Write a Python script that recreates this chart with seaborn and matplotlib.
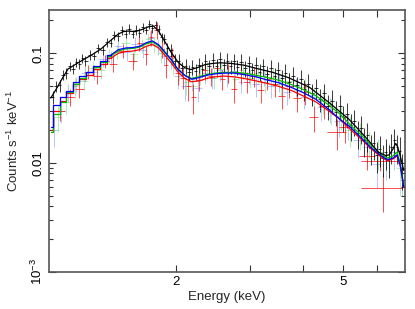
import numpy as np
import pandas as pd
import seaborn as sns
import matplotlib
matplotlib.use('Agg')
import matplotlib.pyplot as plt
from matplotlib.ticker import FixedLocator, NullFormatter, LogLocator

# black spectrum: bin centres, counts/s/keV, relative errors
black_e = [1.02, 1.04, 1.06, 1.08, 1.10, 1.12, 1.14, 1.16, 1.18, 1.20, 1.22,
           1.25, 1.28, 1.31, 1.34, 1.37, 1.40, 1.43, 1.46, 1.49,
           1.52, 1.55, 1.58, 1.61, 1.64, 1.67, 1.70, 1.73, 1.76, 1.79, 1.82,
           1.85, 1.88, 1.91, 1.95, 1.99, 2.03, 2.07,
           2.11, 2.15, 2.19, 2.23, 2.27, 2.31, 2.35,
           2.40, 2.45, 2.50, 2.55, 2.60, 2.65, 2.70, 2.75, 2.80,
           2.86, 2.92, 2.98, 3.04, 3.10, 3.16, 3.22,
           3.29, 3.36, 3.43, 3.50, 3.57, 3.64, 3.72, 3.80, 3.88, 3.96,
           4.04, 4.13, 4.22, 4.31, 4.40, 4.50, 4.60, 4.70, 4.80, 4.90,
           5.00, 5.10, 5.20, 5.30, 5.40, 5.50, 5.60, 5.70, 5.80, 5.90,
           6.00, 6.10, 6.20, 6.30, 6.40, 6.50, 6.60, 6.70, 6.80, 6.90]
black_v = [0.040, 0.050, 0.051, 0.064, 0.066, 0.076, 0.072, 0.083, 0.080, 0.090, 0.086,
           0.097, 0.095, 0.111, 0.107, 0.127, 0.125, 0.147, 0.143, 0.163,
           0.152, 0.168, 0.151, 0.165, 0.155, 0.174, 0.165, 0.184, 0.170, 0.181, 0.166,
           0.140, 0.136, 0.111, 0.107, 0.086, 0.086, 0.073,
           0.077, 0.067, 0.075, 0.069, 0.079, 0.072, 0.085,
           0.076, 0.087, 0.077, 0.088, 0.078, 0.086, 0.076, 0.085, 0.075,
           0.084, 0.073, 0.081, 0.070, 0.078, 0.068, 0.076,
           0.065, 0.073, 0.062, 0.070, 0.059, 0.066, 0.055, 0.062, 0.051, 0.058,
           0.047, 0.053, 0.043, 0.048, 0.038, 0.043, 0.033, 0.037, 0.029, 0.033,
           0.026, 0.028, 0.022, 0.024, 0.0188, 0.0207, 0.0160, 0.0178, 0.0137, 0.0150,
           0.0118, 0.0133, 0.0110, 0.0125, 0.0109, 0.0140, 0.0160, 0.0138, 0.0128, 0.0088]
black_rel = [0.14, 0.12, 0.13, 0.11, 0.12, 0.10, 0.11, 0.10, 0.11, 0.09, 0.10,
             0.10, 0.09, 0.10, 0.09, 0.10, 0.09, 0.10, 0.09, 0.10,
             0.09, 0.10, 0.09, 0.10, 0.09, 0.10, 0.09, 0.10, 0.09, 0.10, 0.09,
             0.10, 0.11, 0.12, 0.13, 0.14, 0.15, 0.15,
             0.16, 0.17, 0.16, 0.17, 0.16, 0.15, 0.16,
             0.15, 0.16, 0.15, 0.16, 0.15, 0.16, 0.15, 0.17, 0.16,
             0.17, 0.16, 0.18, 0.17, 0.18, 0.17, 0.18,
             0.18, 0.19, 0.18, 0.20, 0.19, 0.20, 0.19, 0.21, 0.20, 0.21,
             0.22, 0.21, 0.23, 0.22, 0.24, 0.23, 0.25, 0.24, 0.26, 0.25,
             0.27, 0.26, 0.28, 0.27, 0.29, 0.28, 0.30, 0.29, 0.31, 0.30,
             0.32, 0.31, 0.33, 0.32, 0.34, 0.30, 0.28, 0.30, 0.33, 0.36]

# red spectrum: centre, half width, value, error
red_e = [1.06, 1.12, 1.18, 1.24, 1.30, 1.36, 1.42, 1.50, 1.58, 1.64, 1.70, 1.75,
         1.80, 1.85, 1.90, 1.96, 2.02, 2.08, 2.14, 2.20, 2.27, 2.34, 2.42, 2.50,
         2.58, 2.66, 2.75, 2.85, 2.95, 3.06, 3.18, 3.30, 3.43, 3.57, 3.72, 3.88,
         4.05, 4.25, 4.50, 4.82, 5.05, 5.70, 6.10, 6.20]
red_w = [0.03, 0.03, 0.03, 0.03, 0.03, 0.03, 0.03, 0.04, 0.04, 0.02, 0.02, 0.02,
         0.02, 0.02, 0.02, 0.03, 0.03, 0.03, 0.03, 0.03, 0.035, 0.035, 0.04, 0.04,
         0.04, 0.04, 0.05, 0.05, 0.05, 0.06, 0.06, 0.06, 0.07, 0.07, 0.08, 0.08,
         0.09, 0.11, 0.13, 0.25, 0.18, 0.25, 0.6, 0.7]
red_v = [0.030, 0.040, 0.047, 0.068, 0.062, 0.085, 0.080, 0.106, 0.086, 0.125, 0.098, 0.140,
         0.165, 0.110, 0.078, 0.095, 0.066, 0.060, 0.050, 0.040, 0.057, 0.070, 0.062, 0.074,
         0.058, 0.067, 0.047, 0.066, 0.055, 0.062, 0.046, 0.058, 0.052, 0.041, 0.050, 0.039,
         0.044, 0.026, 0.033, 0.019, 0.021, 0.0116, 0.0104, 0.0058]
red_err = [0.006, 0.007, 0.008, 0.010, 0.010, 0.012, 0.013, 0.015, 0.015, 0.020, 0.020, 0.022,
           0.030, 0.020, 0.018, 0.017, 0.015, 0.013, 0.013, 0.012, 0.012, 0.013, 0.012, 0.013,
           0.012, 0.013, 0.012, 0.013, 0.012, 0.013, 0.011, 0.012, 0.012, 0.010, 0.011, 0.010,
           0.010, 0.007, 0.008, 0.006, 0.006, 0.003, 0.002, 0.0023]

green_e = [1.05, 1.10, 1.15, 1.21, 1.27, 1.33, 1.39, 1.45, 1.52, 1.59, 1.66, 1.72,
           1.78, 1.84, 1.90, 1.97, 2.04, 2.12, 2.20, 2.28, 2.37, 2.46, 2.56, 2.66,
           2.77, 2.88, 3.00, 3.13, 3.26, 3.40, 3.55, 3.71, 3.88, 4.06, 4.25, 4.46,
           4.68, 4.92, 5.18, 5.46, 5.75, 6.05, 6.40, 6.80]
green_w = [0.025, 0.025, 0.025, 0.03, 0.03, 0.03, 0.03, 0.03, 0.035, 0.035, 0.03, 0.03,
           0.03, 0.03, 0.03, 0.035, 0.035, 0.04, 0.04, 0.04, 0.045, 0.045, 0.05, 0.05,
           0.055, 0.055, 0.06, 0.065, 0.065, 0.07, 0.075, 0.08, 0.085, 0.09, 0.1, 0.11,
           0.12, 0.12, 0.14, 0.14, 0.15, 0.15, 0.2, 0.15]
green_v = [0.026, 0.036, 0.050, 0.056, 0.074, 0.070, 0.096, 0.104, 0.125, 0.098, 0.118, 0.135,
           0.120, 0.100, 0.096, 0.080, 0.070, 0.055, 0.050, 0.064, 0.071, 0.060, 0.072, 0.066,
           0.058, 0.070, 0.060, 0.066, 0.055, 0.061, 0.052, 0.056, 0.046, 0.049, 0.040, 0.037,
           0.030, 0.027, 0.020, 0.018, 0.0150, 0.0125, 0.0112, 0.0090]
green_err = [0.007, 0.008, 0.009, 0.010, 0.012, 0.012, 0.014, 0.015, 0.018, 0.016, 0.018, 0.020,
             0.020, 0.018, 0.018, 0.016, 0.014, 0.013, 0.012, 0.013, 0.014, 0.013, 0.014, 0.013,
             0.012, 0.013, 0.012, 0.013, 0.012, 0.012, 0.011, 0.011, 0.010, 0.010, 0.009, 0.009,
             0.008, 0.007, 0.006, 0.005, 0.004, 0.004, 0.004, 0.004]

blue_e = [1.03, 1.07, 1.11, 1.16, 1.22, 1.28, 1.34, 1.40, 1.46, 1.53, 1.60, 1.67,
          1.74, 1.81, 1.88, 1.95, 2.02, 2.10, 2.18, 2.26, 2.35, 2.44, 2.54, 2.64,
          2.75, 2.86, 2.98, 3.10, 3.23, 3.37, 3.52, 3.68, 3.85, 4.03, 4.22, 4.43,
          4.65, 4.88, 5.13, 5.40, 5.70, 6.00, 6.30, 6.60, 6.88]
blue_w = [0.02, 0.02, 0.025, 0.025, 0.03, 0.03, 0.03, 0.03, 0.03, 0.035, 0.035, 0.035,
          0.035, 0.035, 0.035, 0.035, 0.04, 0.04, 0.04, 0.045, 0.045, 0.045, 0.05, 0.05,
          0.055, 0.055, 0.06, 0.06, 0.065, 0.07, 0.075, 0.08, 0.085, 0.09, 0.1, 0.11,
          0.11, 0.12, 0.13, 0.14, 0.15, 0.15, 0.15, 0.15, 0.07]
blue_v = [0.020, 0.030, 0.044, 0.052, 0.066, 0.068, 0.088, 0.092, 0.118, 0.102, 0.122, 0.108,
          0.138, 0.116, 0.095, 0.090, 0.062, 0.050, 0.058, 0.048, 0.066, 0.060, 0.070, 0.062,
          0.069, 0.055, 0.066, 0.052, 0.062, 0.050, 0.055, 0.044, 0.050, 0.040, 0.042, 0.032,
          0.031, 0.024, 0.022, 0.016, 0.0140, 0.0098, 0.0110, 0.0125, 0.0080]
blue_err = [0.006, 0.007, 0.008, 0.009, 0.011, 0.011, 0.013, 0.014, 0.016, 0.016, 0.018, 0.018,
            0.022, 0.020, 0.018, 0.018, 0.015, 0.013, 0.013, 0.012, 0.013, 0.013, 0.014, 0.013,
            0.014, 0.012, 0.013, 0.012, 0.012, 0.011, 0.011, 0.010, 0.010, 0.009, 0.009, 0.008,
            0.008, 0.007, 0.006, 0.005, 0.004, 0.004, 0.004, 0.004, 0.003]

# folded models
black_model_e = [1.01, 1.04, 1.07, 1.11, 1.16, 1.21, 1.27, 1.33, 1.39, 1.46, 1.50, 1.54,
                 1.60, 1.66, 1.72, 1.77, 1.82, 1.88, 1.95, 2.03, 2.10, 2.17, 2.25, 2.35,
                 2.45, 2.55, 2.70, 2.90, 3.10, 3.40, 3.70, 4.15, 4.60, 5.15, 5.65, 6.05,
                 6.30, 6.42, 6.55, 6.65, 6.72, 6.80, 6.95]
black_model_v = [0.039, 0.047, 0.057, 0.072, 0.080, 0.088, 0.098, 0.110, 0.128, 0.150, 0.158, 0.160,
                 0.158, 0.165, 0.175, 0.178, 0.160, 0.130, 0.102, 0.082, 0.074, 0.071, 0.074, 0.079,
                 0.081, 0.082, 0.081, 0.078, 0.073, 0.067, 0.060, 0.049, 0.036, 0.025, 0.017, 0.0125,
                 0.0116, 0.0118, 0.0133, 0.0150, 0.0140, 0.0120, 0.0085]

col_model_e = [1.01, 1.04, 1.08, 1.12, 1.16, 1.20, 1.25, 1.30, 1.35, 1.40, 1.46, 1.52,
               1.58, 1.64, 1.70, 1.76, 1.82, 1.88, 1.95, 2.02, 2.10, 2.18, 2.27, 2.37,
               2.48, 2.60, 2.75, 2.90, 3.10, 3.30, 3.50, 3.75, 4.00, 4.30, 4.60, 4.90,
               5.20, 5.50, 5.80, 6.10, 6.35, 6.55, 6.70, 6.82, 6.95]
blue_model_v = [0.021, 0.034, 0.040, 0.045, 0.055, 0.062, 0.068, 0.077, 0.085, 0.096, 0.108, 0.112,
                0.113, 0.116, 0.125, 0.130, 0.120, 0.104, 0.088, 0.072, 0.063, 0.058, 0.060, 0.063,
                0.065, 0.066, 0.066, 0.064, 0.061, 0.057, 0.054, 0.049, 0.044, 0.038, 0.031, 0.025,
                0.021, 0.017, 0.0138, 0.0118, 0.0106, 0.0110, 0.0118, 0.0095, 0.0060]
red_model_v = [0.020, 0.030, 0.037, 0.043, 0.052, 0.058, 0.064, 0.072, 0.080, 0.090, 0.100, 0.104,
               0.105, 0.108, 0.116, 0.121, 0.112, 0.097, 0.082, 0.068, 0.059, 0.055, 0.056, 0.059,
               0.061, 0.062, 0.061, 0.059, 0.056, 0.053, 0.050, 0.046, 0.041, 0.036, 0.030, 0.025,
               0.020, 0.0165, 0.0135, 0.0115, 0.0104, 0.0108, 0.0115, 0.0093, 0.0060]
green_model_v = [0.019, 0.028, 0.036, 0.044, 0.053, 0.060, 0.067, 0.075, 0.084, 0.094, 0.105, 0.110,
                 0.111, 0.114, 0.122, 0.127, 0.118, 0.102, 0.087, 0.072, 0.063, 0.059, 0.061, 0.064,
                 0.066, 0.067, 0.067, 0.066, 0.063, 0.060, 0.057, 0.052, 0.047, 0.041, 0.034, 0.028,
                 0.022, 0.018, 0.0145, 0.0122, 0.0110, 0.0115, 0.0125, 0.0098, 0.0062]

sns.set_theme(style='ticks')
plt.rcParams['font.family'] = ['Liberation Sans', 'DejaVu Sans']
plt.rcParams['mathtext.fontset'] = 'custom'
plt.rcParams['mathtext.rm'] = 'Liberation Sans'
plt.rcParams['mathtext.it'] = 'Liberation Sans:italic'

fig = plt.figure(figsize=(4.15, 3.09), dpi=100)
ax = fig.add_axes([0.118, 0.120, 0.858, 0.848])
ax.set_xscale('log')
ax.set_yscale('log')

# black bin half widths from neighbouring centres
be = np.array(black_e)
mids = (be[:-1] + be[1:]) / 2
edges = np.concatenate([[be[0] - (mids[0] - be[0])], mids, [be[-1] + (be[-1] - mids[-1])]])
bv = np.array(black_v)
b_err = bv * np.array(black_rel)

def draw_data(e, w, v, err, color, alpha, lw=0.7):
    ax.errorbar(e, v, xerr=w, yerr=err, fmt='none', ecolor=color,
                elinewidth=lw, alpha=alpha, capsize=0, zorder=2)

draw_data(blue_e, blue_w, blue_v, blue_err, '#3355ff', 0.35)
draw_data(green_e, green_w, green_v, green_err, '#22cc22', 0.35)
draw_data(red_e, red_w, red_v, red_err, '#ff0000', 0.7)
ax.errorbar(be, bv, xerr=[be - edges[:-1], edges[1:] - be], yerr=b_err, fmt='none',
            ecolor='black', elinewidth=0.75, alpha=0.75, capsize=0, zorder=3)

# coloured models: stepped where the bins are wide, smooth above ~1.4 keV
models = pd.DataFrame({'E': col_model_e, 'blue': blue_model_v,
                       'red': red_model_v, 'green': green_model_v})
low = models[models['E'] <= 1.40]
high = models[models['E'] >= 1.40]
for name, c in [('red', '#ff0000'), ('green', '#00bb00'), ('blue', '#0000ff')]:
    sns.lineplot(data=low, x='E', y=name, color=c, lw=0.9, ax=ax,
                 drawstyle='steps-mid', estimator=None, sort=False, zorder=4)
    sns.lineplot(data=high, x='E', y=name, color=c, lw=0.9, ax=ax,
                 estimator=None, sort=False, zorder=4)
bm = pd.DataFrame({'E': black_model_e, 'v': black_model_v})
sns.lineplot(data=bm, x='E', y='v', color='black', lw=0.9, ax=ax,
             estimator=None, sort=False, zorder=5)

ax.set_xlim(1.0, 7.0)
ax.set_ylim(1e-3, 0.25)

ax.xaxis.set_major_locator(FixedLocator([2, 5]))
ax.xaxis.set_minor_locator(FixedLocator([3, 4, 6]))
ax.xaxis.set_minor_formatter(NullFormatter())
ax.set_xticklabels(['2', '5'])
ax.yaxis.set_major_locator(FixedLocator([1e-3, 1e-2, 1e-1]))
ax.yaxis.set_minor_locator(LogLocator(base=10, subs=np.arange(2, 10)))
ax.yaxis.set_minor_formatter(NullFormatter())
ax.set_yticklabels([r'10$^{-3}$', '0.01', '0.1'], rotation=90, va='center')

ax.tick_params(which='both', direction='in', top=True, right=True,
               colors='#333333', labelcolor='black', labelsize=9.5, width=0.8, pad=3)
ax.tick_params(which='major', length=5)
ax.tick_params(which='minor', length=3)
ax.tick_params(axis='x', which='minor', length=5)
for s in ax.spines.values():
    s.set_color('#555555')
    s.set_linewidth(1.2)

ax.set_xlabel('Energy (keV)', fontsize=9.5, labelpad=2)
ax.set_ylabel(r'Counts s$^{-1}$ keV$^{-1}$', fontsize=9.5, labelpad=6)

fig.savefig('out.png', dpi=100)
